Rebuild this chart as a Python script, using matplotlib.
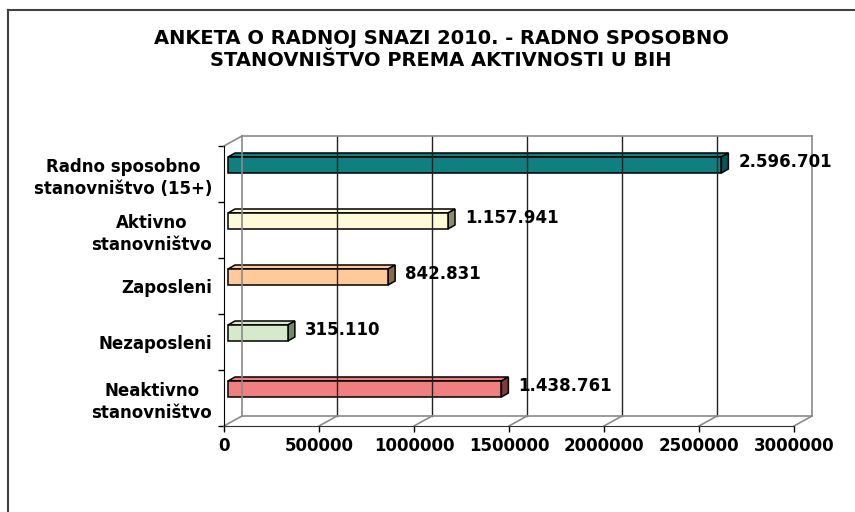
"""Excel-style 3D horizontal bar chart: working-age population by activity, BiH 2010."""
import matplotlib
matplotlib.use("Agg")
import matplotlib.pyplot as plt
import numpy as np
from matplotlib.lines import Line2D
from matplotlib.patches import Polygon
from matplotlib.transforms import IdentityTransform, ScaledTranslation

CATEGORIES = [
    "Radno sposobno\nstanovništvo (15+)",
    "Aktivno\nstanovništvo",
    "Zaposleni",
    "Nezaposleni",
    "Neaktivno\nstanovništvo",
]
VALUES = [2596701, 1157941, 842831, 315110, 1438761]
VALUE_LABELS = ["2.596.701", "1.157.941", "842.831", "315.110", "1.438.761"]
X_TICKS = [0, 500000, 1000000, 1500000, 2000000, 2500000, 3000000]
TITLE = "ANKETA O RADNOJ SNAZI 2010. - RADNO SPOSOBNO\nSTANOVNIŠTVO PREMA AKTIVNOSTI U BIH"

FRONT = ["#0f7f7f", "#fffbd8", "#ffc99a", "#d6e9cb", "#f08080"]
SIDE = ["#0a5555", "#8c8c6c", "#8a6a4a", "#6f8a66", "#7f3c3c"]

W, H, DPI = 855, 512, 100
PT = 72 / DPI           # points per pixel
DEPTH = (18, 10)        # back wall offset in px
BAR_SHIFT = (4, 9)      # bar front face offset in px
BAR_DEPTH = (7, 4)
BAR_H = 16

fig = plt.figure(figsize=(W / DPI, H / DPI), dpi=DPI)
ax = fig.add_axes([224 / W, 1 - 426 / H, 570 / W, 280 / H])
ax.set_xlim(0, 3000000)
ax.set_ylim(len(CATEGORIES), 0)
ax.patch.set_visible(False)
for side in ("top", "right"):
    ax.spines[side].set_visible(False)
ax.spines["left"].set_color("black")
ax.spines["bottom"].set_color("#303030")

lab_font = dict(family="DejaVu Sans", weight="bold", size=12)
ax.set_xticks(X_TICKS)
ax.set_xticklabels([str(t) for t in X_TICKS], **lab_font)
ax.tick_params(axis="x", length=6 * PT, width=1, color="black", pad=5 * PT)
centers = np.arange(len(CATEGORIES)) + 0.5
ax.set_yticks(centers)
ax.set_yticklabels(CATEGORIES, **lab_font)
ax.set_yticks(np.arange(len(CATEGORIES) + 1), minor=True)
ax.tick_params(axis="y", which="major", length=0, pad=12 * PT)
ax.tick_params(axis="y", which="minor", length=6 * PT, width=1, color="black")
for lab in ax.get_yticklabels():
    lab.set_multialignment("center")
    lab.set_linespacing(1.3)

# back wall and floor, shifted into depth
back = ax.transData + ScaledTranslation(DEPTH[0] / DPI, DEPTH[1] / DPI, fig.dpi_scale_trans)
n = len(CATEGORIES)
for t in X_TICKS[1:-1]:
    ax.add_line(Line2D([t, t], [0, n], transform=back, color="#222222", lw=1, clip_on=False))
wall = dict(transform=back, color="#8a8a8a", lw=1.2, clip_on=False)
ax.add_line(Line2D([0, 0], [0, n], **wall))
ax.add_line(Line2D([X_TICKS[-1], X_TICKS[-1]], [0, n], **wall))
ax.add_line(Line2D([0, X_TICKS[-1]], [0, 0], **wall))
ax.add_line(Line2D([0, X_TICKS[-1]], [n, n], **wall))


def px(x, y, ox=0.0, oy=0.0):
    d = ax.transData.transform((x, y))
    return (d[0] + ox, d[1] + oy)


for t in X_TICKS:
    a, b = px(t, n), px(t, n, *DEPTH)
    ax.add_line(Line2D([a[0], b[0]], [a[1], b[1]], transform=IdentityTransform(),
                       color="#8a8a8a", lw=1.2, clip_on=False))
a, b = px(0, 0), px(0, 0, *DEPTH)
ax.add_line(Line2D([a[0], b[0]], [a[1], b[1]], transform=IdentityTransform(),
                   color="#8a8a8a", lw=1.2, clip_on=False))

# 3D bars
for c, v, txt, fc, sc in zip(centers, VALUES, VALUE_LABELS, FRONT, SIDE):
    x0, yc = px(0, c, *BAR_SHIFT)
    x1, _ = px(v, c, *BAR_SHIFT)
    y0, y1 = yc - BAR_H / 2, yc + BAR_H / 2
    dx, dy = BAR_DEPTH
    faces = [
        ([(x0, y1), (x1, y1), (x1 + dx, y1 + dy), (x0 + dx, y1 + dy)], fc),
        ([(x1, y0), (x1 + dx, y0 + dy), (x1 + dx, y1 + dy), (x1, y1)], sc),
        ([(x0, y0), (x1, y0), (x1, y1), (x0, y1)], fc),
    ]
    for pts, col in faces:
        ax.add_patch(Polygon(pts, closed=True, facecolor=col, edgecolor="black",
                             lw=1.1, transform=IdentityTransform(), clip_on=False,
                             joinstyle="miter"))
    ax.text(x1 + dx + 10, yc + 3, txt, transform=IdentityTransform(), ha="left",
            va="center", **lab_font)

# chart frame (clipped on right and bottom like the source)
fx, fy = 8 / W, 1 - 10 / H
fig.add_artist(Line2D([fx, fx], [fy, 0], transform=fig.transFigure, color="#404040", lw=1.5))
fig.add_artist(Line2D([fx, 1], [fy, fy], transform=fig.transFigure, color="#404040", lw=1.5))

fig.text(441 / W, 1 - 50 / H, TITLE, ha="center", va="center", multialignment="center",
         family="DejaVu Sans", weight="bold", size=14, linespacing=1.2)

fig.savefig("out.png", dpi=DPI, facecolor="white")
